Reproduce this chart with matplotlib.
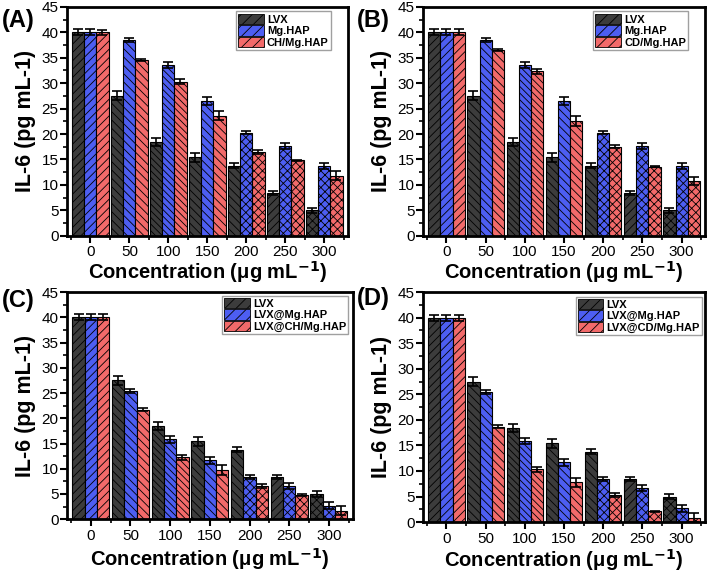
import matplotlib
matplotlib.use("Agg")
import matplotlib.pyplot as plt
import matplotlib.patches as mpatches
import numpy as np

plt.rcParams["font.family"] = ["Liberation Sans", "DejaVu Sans"]
plt.rcParams["hatch.linewidth"] = 0.6

concentrations = ["0", "50", "100", "150", "200", "250", "300"]

# IL-6 values (pg/mL)
lvx = [40.0, 27.5, 18.4, 15.4, 13.8, 8.4, 5.0]
lvx_err = [0.6, 0.9, 0.8, 0.9, 0.5, 0.4, 0.5]
mg_hap = [40.0, 38.5, 33.6, 26.5, 20.3, 17.6, 13.8]
mg_hap_err = [0.6, 0.4, 0.6, 0.7, 0.3, 0.6, 0.6]
ch_mg_hap = [40.0, 34.6, 30.3, 23.6, 16.5, 14.8, 11.8]
ch_mg_hap_err = [0.5, 0.2, 0.5, 0.9, 0.4, 0.1, 0.9]
cd_mg_hap = [40.0, 36.6, 32.3, 22.6, 17.5, 13.6, 10.8]
cd_mg_hap_err = [0.6, 0.2, 0.5, 1.0, 0.3, 0.1, 0.8]
lvx_mg_hap = [40.0, 25.5, 15.8, 11.7, 8.4, 6.6, 2.7]
lvx_mg_hap_err = [0.6, 0.4, 0.6, 0.7, 0.4, 0.6, 0.7]
lvx_ch_mg_hap = [40.0, 21.7, 12.3, 9.7, 6.5, 4.8, 1.7]
lvx_ch_mg_hap_err = [0.6, 0.3, 0.5, 1.0, 0.4, 0.1, 0.9]
lvx_cd_mg_hap = [40.0, 18.7, 10.3, 7.8, 5.3, 2.1, 0.9]
lvx_cd_mg_hap_err = [0.6, 0.3, 0.5, 0.9, 0.4, 0.1, 0.8]

COLORS = ["#3c3c3c", "#4d5ef2", "#f26a6a"]

# hatch per concentration group (black, blue, red)
GROUP_HATCH = [
    ["////", "////", "////"],
    ["\\\\\\\\", "\\\\\\\\", "\\\\\\\\"],
    ["\\\\\\\\\\", "\\\\\\\\\\", "\\\\\\\\\\"],
    ["\\\\\\\\", "\\\\\\\\", "\\\\\\\\"],
    ["\\\\\\\\", "xxxx", "xxxx"],
    ["////", "xxxx", "xxxx"],
    ["xxxx", "xxxx", "xxxx"],
]

# tag, axes rect, tag position (px), series, xlabel pad, legend anchor
panels = [
    ("(A)", [0.0945, 0.590, 0.396, 0.398], (2, 20),
     [(lvx, lvx_err, "LVX"), (mg_hap, mg_hap_err, "Mg.HAP"),
      (ch_mg_hap, ch_mg_hap_err, "CH/Mg.HAP")], 0, (0.94, 0.98)),
    ("(B)", [0.5965, 0.590, 0.398, 0.398], (357, 20),
     [(lvx, lvx_err, "LVX"), (mg_hap, mg_hap_err, "Mg.HAP"),
      (cd_mg_hap, cd_mg_hap_err, "CD/Mg.HAP")], 0, (0.94, 0.98)),
    ("(C)", [0.0945, 0.097, 0.403, 0.395], (2, 300),
     [(lvx, lvx_err, "LVX"), (lvx_mg_hap, lvx_mg_hap_err, "LVX@Mg.HAP"),
      (lvx_ch_mg_hap, lvx_ch_mg_hap_err, "LVX@CH/Mg.HAP")], 2, (0.985, 0.985)),
    ("(D)", [0.5965, 0.092, 0.398, 0.400], (357, 298),
     [(lvx, lvx_err, "LVX"), (lvx_mg_hap, lvx_mg_hap_err, "LVX@Mg.HAP"),
      (lvx_cd_mg_hap, lvx_cd_mg_hap_err, "LVX@CD/Mg.HAP")], 1, (0.99, 0.98)),
]

fig = plt.figure(figsize=(7.09, 5.75), dpi=100)
x = np.arange(len(concentrations))
width = 0.31

for tag, rect, (tx, ty), series, xpad, anchor in panels:
    ax = fig.add_axes(rect)
    for i, (vals, errs, name) in enumerate(series):
        pos = x + (i - 1) * width
        bars = ax.bar(pos, vals, width, color=COLORS[i], edgecolor="black",
                      linewidth=0.8, zorder=2)
        for g, b in enumerate(bars):
            b.set_hatch(GROUP_HATCH[g][i])
        ax.errorbar(pos, vals, yerr=errs, fmt="none", ecolor="black",
                    elinewidth=1.2, capsize=3.5, capthick=1.2, zorder=3)

    handles = [mpatches.Patch(facecolor=COLORS[i], edgecolor="black",
                              hatch="///", linewidth=0.6, label=s[2])
               for i, s in enumerate(series)]
    ax.legend(handles=handles, loc="upper right", bbox_to_anchor=anchor,
              prop={"weight": "bold", "size": 8}, frameon=True,
              fancybox=False, edgecolor="#888888", handlelength=2.3,
              handleheight=1.05, handletextpad=0.3, borderpad=0.2,
              labelspacing=0.05, borderaxespad=0.0)

    ax.set_xlim(-0.6, 6.6)
    ax.set_ylim(0, 45)
    ax.set_yticks(np.arange(0, 46, 5))
    ax.set_yticks(np.arange(0, 45, 2.5), minor=True)
    ax.set_xticks(x)
    ax.set_xticks(np.arange(-0.5, 7, 1), minor=True)
    ax.set_xticklabels(concentrations)
    ax.tick_params(axis="both", which="major", direction="out", length=5,
                   width=1.5, labelsize=11)
    ax.tick_params(axis="both", which="minor", direction="out", length=3,
                   width=1.2)
    ax.tick_params(axis="x", pad=2)
    ax.tick_params(axis="y", pad=1)
    for sp in ax.spines.values():
        sp.set_linewidth(2.0)

    ax.set_ylabel("IL-6 (pg mL-1)", fontsize=15.5, fontweight="bold", labelpad=4)
    ax.set_xlabel("Concentration (\u03bcg mL$^{\\mathbf{-1}}$)", fontsize=14.5,
                  fontweight="bold", labelpad=xpad)

    fig.text(tx / 709, 1 - ty / 575, tag, fontsize=17, fontweight="bold",
             ha="left", va="center")

fig.savefig("out.png", dpi=100)
